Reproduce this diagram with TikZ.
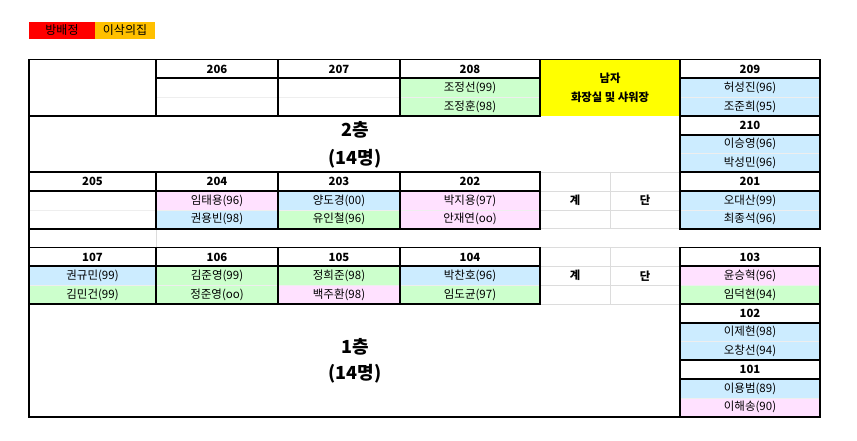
\documentclass[tikz,border=0pt]{standalone}
\usepackage{fontspec}
\setmainfont{Noto Sans CJK KR}
\definecolor{cgreen}{RGB}{204,255,204}
\definecolor{cblue}{RGB}{204,236,255}
\definecolor{cpink}{RGB}{255,225,255}
\definecolor{cred}{RGB}{255,0,0}
\definecolor{corange}{RGB}{255,192,0}
\definecolor{cyellow}{RGB}{255,255,0}
\definecolor{gridc}{RGB}{220,220,220}
\definecolor{divc}{RGB}{238,238,238}
\tikzset{
 thickb/.style={line width=1.9pt, black},
 divline/.style={line width=0.6pt, draw=divc},
 gridl/.style={line width=0.5pt, draw=gridc},
 hdr/.style={font=\bfseries\fontsize{11.3}{13}\selectfont, inner sep=0pt},
 nm/.style={font=\fontsize{11.5}{13}\selectfont, inner sep=0pt},
 leg/.style={font=\fontsize{12}{14}\selectfont, inner sep=0pt},
 big/.style={font=\bfseries\fontsize{18}{20}\selectfont, inner sep=0pt},
}
\newcommand\myroom[8]{%
 \pgfmathsetmacro\ya{59.5+18.8*#3}%
 \pgfmathsetmacro\yb{\ya+18.8}%
 \pgfmathsetmacro\yc{\yb+18.8}%
 \pgfmathsetmacro\yd{\yc+18.8}%
 \pgfmathsetmacro\xm{(#1+#2)/2}%
 \fill[white] (#1,\ya) rectangle (#2,\yb);
 \fill[#6] (#1,\yb) rectangle (#2,\yc);
 \fill[#8] (#1,\yc) rectangle (#2,\yd);
 \draw[divline] (#1,\yc) -- (#2,\yc);
 \node[hdr] (h#4) at (\xm,{(\ya+\yb)/2}) {#4};
 \node[nm] (a#4) at (\xm,{(\yb+\yc)/2}) {#5};
 \node[nm] (b#4) at (\xm,{(\yc+\yd)/2}) {#7};
 \draw[thickb] (#1,\ya) rectangle (#2,\yd);
 \draw[thickb] (#1,\yb) -- (#2,\yb);
}
\begin{document}
\begin{tikzpicture}[x=1pt,y=-1pt]
\useasboundingbox[fill=white] (0,0) rectangle (857,440);
% legend
\fill[cred] (29,21.7) rectangle (95,39.3);
\node[leg] (leg1) at (62,30.5) {방배정};
\fill[corange] (95,21.7) rectangle (155,39.3);
\node[leg] (leg2) at (125,30.5) {이삭의집};
% gridlines in stair areas
\foreach \y in {172.3,191.1,209.9,228.7,247.5,266.3,285.1,303.9} {\draw[gridl] (540,\y) -- (680,\y);}
\draw[gridl] (610,172.3) -- (610,228.7);
\draw[gridl] (610,247.5) -- (610,303.9);
\draw[gridl] (156,228.7) -- (156,247.5);
% toilet
\fill[cyellow] (540,59.5) rectangle (680,115.9);
\node[hdr] (wc1) at (610,78.2) {남자};
\node[hdr] (wc2) at (610,97) {화장실 및 샤워장};
% stairs
\node[hdr] (st1) at (575,200.5) {계};
\node[hdr] (st2) at (645,200.5) {단};
\node[hdr] (st3) at (575,275.7) {계};
\node[hdr] (st4) at (645,275.7) {단};
% floor labels
\node[big] (f2a) at (355,130) {2층};
\node[big] (f2b) at (355,159) {(14명)};
\node[big] (f1a) at (355,347) {1층};
\node[big] (f1b) at (355,374) {(14명)};
% rooms
\myroom{156}{278}{0}{206}{}{white}{}{white}
\myroom{278}{400}{0}{207}{}{white}{}{white}
\myroom{400}{540}{0}{208}{조정선(99)}{cgreen}{조정훈(98)}{cgreen}
\myroom{680}{820}{0}{209}{허성진(96)}{cblue}{조준희(95)}{cblue}
\myroom{680}{820}{3}{210}{이승영(96)}{cblue}{박성민(96)}{cblue}
\myroom{29}{156}{6}{205}{}{white}{}{white}
\myroom{156}{278}{6}{204}{임태용(96)}{cpink}{권용빈(98)}{cblue}
\myroom{278}{400}{6}{203}{양도경(00)}{cblue}{유인철(96)}{cgreen}
\myroom{400}{540}{6}{202}{박지용(97)}{cpink}{안재연(oo)}{cpink}
\myroom{680}{820}{6}{201}{오대산(99)}{cblue}{최종석(96)}{cblue}
\myroom{29}{156}{10}{107}{권규민(99)}{cblue}{김민건(99)}{cgreen}
\myroom{156}{278}{10}{106}{김준영(99)}{cgreen}{정준영(oo)}{cgreen}
\myroom{278}{400}{10}{105}{정희준(98)}{cgreen}{백주환(98)}{cpink}
\myroom{400}{540}{10}{104}{박찬호(96)}{cblue}{임도균(97)}{cgreen}
\myroom{680}{820}{10}{103}{윤승혁(96)}{cpink}{임덕현(94)}{cgreen}
\myroom{680}{820}{13}{102}{이제현(98)}{cblue}{오창선(94)}{cblue}
\myroom{680}{820}{16}{101}{이용범(89)}{cblue}{이해송(90)}{cpink}
% blank top-left cell and outer border
\draw[thickb] (29,59.5) rectangle (156,115.9);
\draw[thickb] (29,59.5) -- (820,59.5);
\draw[thickb] (29,59.5) -- (29,416.7) -- (820,416.7);
\end{tikzpicture}
\end{document}
